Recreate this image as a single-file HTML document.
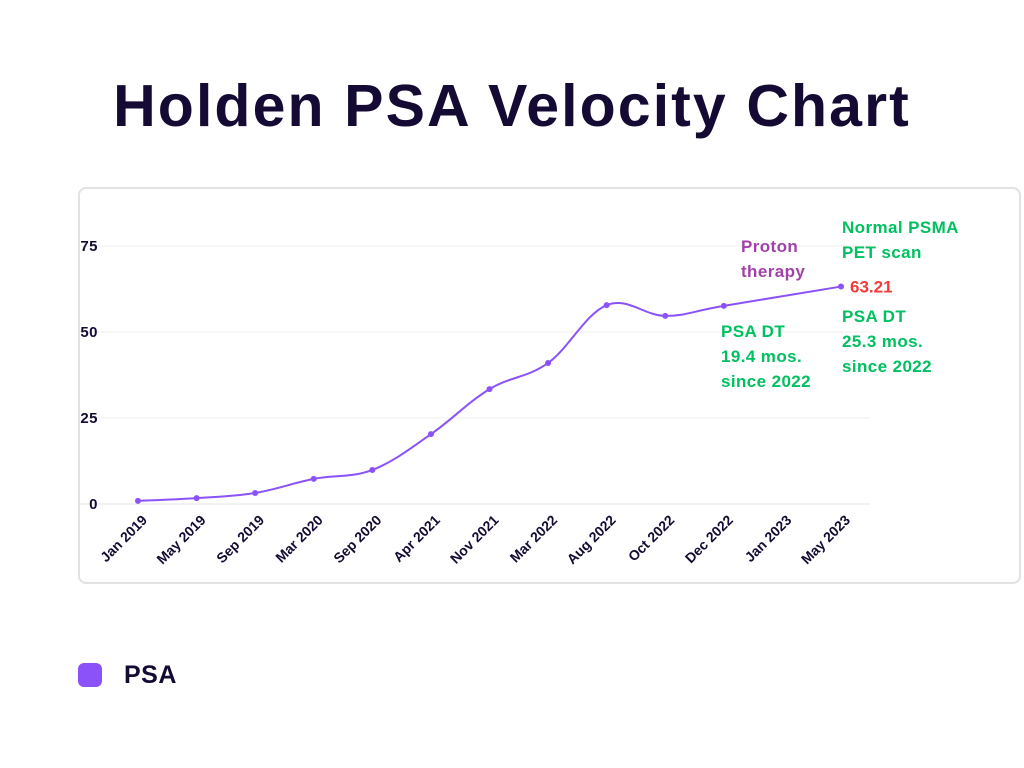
<!DOCTYPE html>
<html><head><meta charset="utf-8"><style>
body{margin:0;width:1024px;height:768px;background:#fff;font-family:"Liberation Sans",sans-serif;overflow:hidden;position:relative}
#title{position:absolute;left:0;width:1024px;top:72px;text-align:center;font-size:59px;font-weight:bold;color:#140a33;letter-spacing:2.1px}
#box{position:absolute;left:78px;top:187px;width:943px;height:397px;border:2px solid #e2e2e2;border-radius:8px;box-sizing:border-box}
svg{position:absolute;left:0;top:0}
.lg{position:absolute}
</style></head><body>
<div id="title">Holden PSA Velocity Chart</div>
<div id="box"></div>
<svg id="chart" width="1024" height="768"></svg>
<div class="lg" style="left:78px;top:663px;">
 <div style="position:absolute;left:0;top:0;width:24px;height:24px;border-radius:6px;background:#8b52f9"></div>
 <div style="position:absolute;left:46px;top:-2px;font-size:25px;font-weight:bold;color:#140a33;letter-spacing:0.5px">PSA</div>
</div>
<script>
const categories=["Jan 2019","May 2019","Sep 2019","Mar 2020","Sep 2020","Apr 2021","Nov 2021","Mar 2022","Aug 2022","Oct 2022","Dec 2022","Jan 2023","May 2023"];
const psaValues=[0.9,1.7,3.2,7.3,9.9,20.3,33.4,41,57.8,54.7,57.6,null,63.21];
const yTicks=[0,25,50,75];
const svg=document.getElementById('chart');
const NS='http://www.w3.org/2000/svg';
const x0=138,x1=841,yBase=504,yTop=246,yMax=75;
const xs=i=>x0+(x1-x0)*i/(categories.length-1);
const ys=v=>yBase-(yBase-yTop)*v/yMax;
function mk(t,a,txt){const e=document.createElementNS(NS,t);for(const k in a)e.setAttribute(k,a[k]);if(txt!=null)e.textContent=txt;svg.appendChild(e);return e;}
yTicks.forEach(t=>{
 const g=mk('line',{x1:80,x2:870,y1:ys(t),y2:ys(t),stroke:t===0?'#e6e6e6':'#efefef','stroke-width':1});
 
 
 const l=mk('text',{x:98,y:ys(t)+5,'text-anchor':'end','font-size':15,'font-weight':'bold',fill:'#140a33','letter-spacing':0.5},String(t));
 
 
});
categories.forEach((c,i)=>{
 const x=xs(i),y=521;
 const l=mk('text',{x:x+10,y:y,'text-anchor':'end','font-size':14,'font-weight':'bold',fill:'#140a33',transform:`rotate(-45 ${x+10} ${y})`},c);
 
 
});
const pts=[];psaValues.forEach((v,i)=>{if(v!=null)pts.push([xs(i),ys(v)]);});
let d='M'+pts[0][0]+','+pts[0][1];
for(let i=0;i<pts.length-1;i++){
 const p0=pts[Math.max(0,i-1)],p1=pts[i],p2=pts[i+1],p3=pts[Math.min(pts.length-1,i+2)];
 const t=0.18;
 d+=` C${p1[0]+(p2[0]-p0[0])*t},${p1[1]+(p2[1]-p0[1])*t} ${p2[0]-(p3[0]-p1[0])*t},${p2[1]-(p3[1]-p1[1])*t} ${p2[0]},${p2[1]}`;
}
const line=mk('path',{d:d,fill:'none',stroke:'#8b52f9','stroke-width':2});


pts.forEach(p=>{
 const c=mk('circle',{cx:p[0],cy:p[1],r:3,fill:'#8b52f9'});
 
 
});
const last=psaValues[psaValues.length-1];
const vl=mk('text',{x:xs(12)+9,y:ys(last)+6,'font-size':17,'font-weight':'bold',fill:'#f53a3a'},String(last));


const anns=[
 {n:'proton-therapy-note',x:741,y:252,c:'#a142a8',lines:['Proton','therapy']},
 {n:'normal-psma-note',x:842,y:233,c:'#00c060',lines:['Normal PSMA','PET scan']},
 {n:'psa-dt-2022-note',x:721,y:337,c:'#00c060',lines:['PSA DT','19.4 mos.','since 2022']},
 {n:'psa-dt-2023-note',x:842,y:322,c:'#00c060',lines:['PSA DT','25.3 mos.','since 2022']}
];
anns.forEach(a=>{a.lines.forEach((s,k)=>{
 const t=mk('text',{x:a.x,y:a.y+k*25,'font-size':17,'font-weight':'bold',fill:a.c,'letter-spacing':0.4},s);
 
 
});});
</script>
</body></html>
